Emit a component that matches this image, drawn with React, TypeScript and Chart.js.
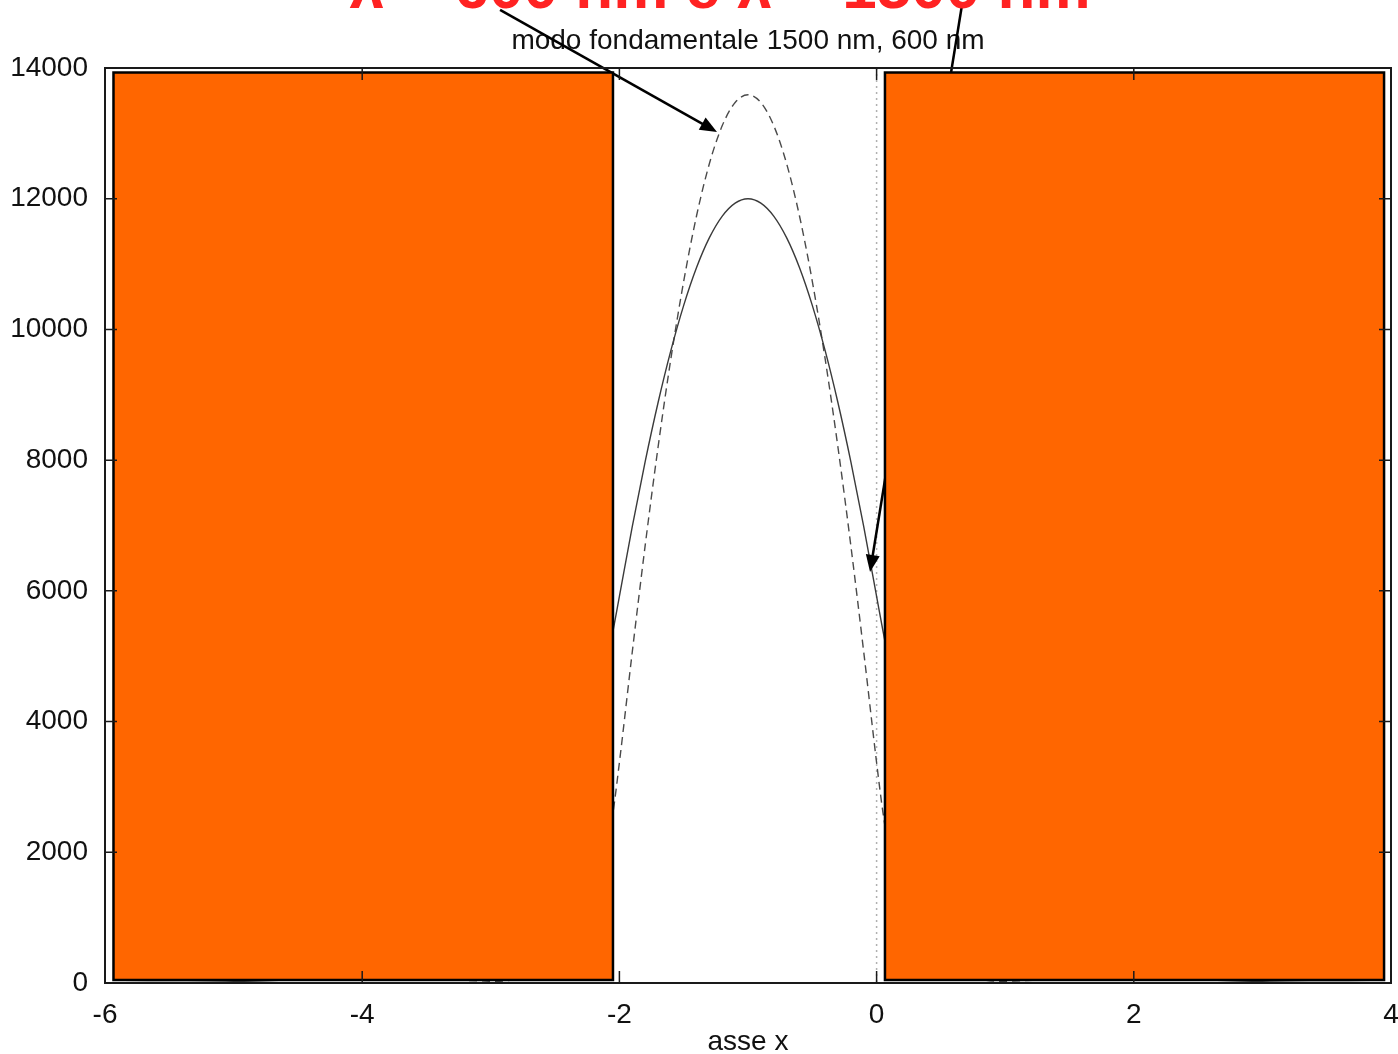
import React, { useEffect, useRef } from "react";
import { Chart, registerables } from "chart.js";

Chart.register(...registerables);

// ---- data ----
const xValues = [-6, -5, -4.5, -4, -3.5, -3, -2.8, -2.6, -2.4, -2.2, -2.1, -2.05, -2.0, -1.9, -1.8, -1.7, -1.6, -1.5, -1.4, -1.3, -1.2, -1.1, -1.0, -0.9, -0.8, -0.7, -0.6, -0.5, -0.4, -0.3, -0.2, -0.1, 0, 0.05, 0.1, 0.2, 0.4, 0.6, 0.8, 1.0, 1.5, 2, 2.5, 3, 4];
const mode1500 = [3, 21, 55, 139, 352, 895, 1306, 1905, 2779, 4054, 4897, 5382, 5915, 6983, 7974, 8874, 9675, 10368, 10947, 11404, 11734, 11933, 12000, 11933, 11734, 11404, 10947, 10368, 9675, 8874, 7974, 6983, 5915, 5382, 4897, 4054, 2779, 1905, 1306, 895, 352, 139, 55, 21, 3];
const mode600 = [0, 0, 0, 0, 2, 20, 56, 156, 434, 1208, 2016, 2600, 3373, 5064, 6687, 8190, 9548, 10736, 11739, 12538, 13119, 13472, 13590, 13472, 13119, 12538, 11739, 10736, 9548, 8190, 6687, 5064, 3373, 2600, 2016, 1208, 434, 156, 56, 20, 2, 0, 0, 0, 0];

const xTicks = [-6, -4, -2, 0, 2, 4];
const yTicks = [0, 2000, 4000, 6000, 8000, 10000, 12000, 14000];

const titleText = "modo fondamentale 1500 nm, 600 nm";
const xAxisLabel = "asse x";
const redText = "λ = 600 nm e λ = 1500 nm";

// cladding regions (data coords): [xMin, xMax, yMin, yMax]
const claddingLeft = [-5.934, -2.05, 46, 13931];
const claddingRight = [0.065, 3.946, 46, 13931];

// arrows (data coords): [xStart, yStart, xEnd, yEnd]
const arrow600 = [-2.928, 14888, -1.241, 13021];
const arrow1500 = [0.664, 14964, -0.051, 6289];

const FONT = '"Liberation Sans", Arial, Helvetica, sans-serif';

export default function App() {
  const ref = useRef<HTMLCanvasElement | null>(null);

  useEffect(() => {
    document.body.style.margin = "0";
    const canvas = ref.current!;
    const toPts = (ys: number[]) => xValues.map((x, i) => ({ x, y: ys[i] }));

    const drawArrow = (ctx: CanvasRenderingContext2D, x1: number, y1: number, x2: number, y2: number) => {
      const ang = Math.atan2(y2 - y1, x2 - x1);
      const hl = 17, hw = 7;
      ctx.save();
      ctx.strokeStyle = "#000";
      ctx.fillStyle = "#000";
      ctx.lineWidth = 2.5;
      ctx.beginPath();
      ctx.moveTo(x1, y1);
      ctx.lineTo(x2 - Math.cos(ang) * hl * 0.8, y2 - Math.sin(ang) * hl * 0.8);
      ctx.stroke();
      ctx.beginPath();
      ctx.moveTo(x2, y2);
      ctx.lineTo(x2 - Math.cos(ang) * hl - Math.sin(ang) * hw, y2 - Math.sin(ang) * hl + Math.cos(ang) * hw);
      ctx.lineTo(x2 - Math.cos(ang) * hl + Math.sin(ang) * hw, y2 - Math.sin(ang) * hl - Math.cos(ang) * hw);
      ctx.closePath();
      ctx.fill();
      ctx.restore();
    };

    const decor = {
      id: "decor",
      beforeDatasetsDraw(chart: any) {
        const { ctx, chartArea, scales } = chart;
        const xs = scales.x;
        ctx.save();
        // zero axis dotted
        ctx.strokeStyle = "#b0b0b0";
        ctx.lineWidth = 1.5;
        ctx.setLineDash([2, 4]);
        const x0 = xs.getPixelForValue(0);
        ctx.beginPath();
        ctx.moveTo(x0, chartArea.top);
        ctx.lineTo(x0, chartArea.bottom);
        ctx.stroke();
        ctx.setLineDash([]);
        // title
        ctx.fillStyle = "#111";
        ctx.font = `28px ${FONT}`;
        ctx.textAlign = "center";
        ctx.textBaseline = "alphabetic";
        ctx.fillText(titleText, (chartArea.left + chartArea.right) / 2, 49);
        // x axis label
        ctx.fillText(xAxisLabel, (chartArea.left + chartArea.right) / 2, 1050);
        ctx.restore();
      },
      afterDatasetsDraw(chart: any) {
        const { ctx, chartArea, scales } = chart;
        const xs = scales.x, ys = scales.y;
        const px = (v: number) => xs.getPixelForValue(v);
        const py = (v: number) => ys.getPixelForValue(v);
        // arrows
        for (const a of [arrow600, arrow1500]) {
          drawArrow(ctx, px(a[0]), py(a[1]), px(a[2]), py(a[3]));
        }
        // cladding rectangles
        ctx.save();
        for (const r of [claddingLeft, claddingRight]) {
          const l = px(r[0]), rr = px(r[1]), t = py(r[3]), b = py(r[2]);
          ctx.fillStyle = "#ff6600";
          ctx.fillRect(l, t, rr - l, b - t);
          ctx.strokeStyle = "#000";
          ctx.lineWidth = 2.5;
          ctx.strokeRect(l, t, rr - l, b - t);
        }
        // frame
        ctx.strokeStyle = "#1a1a1a";
        ctx.lineWidth = 2;
        ctx.strokeRect(chartArea.left, chartArea.top, chartArea.right - chartArea.left, chartArea.bottom - chartArea.top);
        // inward ticks, mirrored
        const tl = 12;
        ctx.lineWidth = 1.5;
        ctx.beginPath();
        for (const t of xTicks) {
          const x = px(t);
          ctx.moveTo(x, chartArea.bottom);
          ctx.lineTo(x, chartArea.bottom - tl);
          ctx.moveTo(x, chartArea.top);
          ctx.lineTo(x, chartArea.top + tl);
        }
        for (const t of yTicks) {
          const y = py(t);
          ctx.moveTo(chartArea.left, y);
          ctx.lineTo(chartArea.left + tl, y);
          ctx.moveTo(chartArea.right, y);
          ctx.lineTo(chartArea.right - tl, y);
        }
        ctx.stroke();
        ctx.restore();
      },
      afterDraw(chart: any) {
        const { ctx } = chart;
        ctx.save();
        ctx.fillStyle = "#ff2222";
        ctx.font = `bold 62px ${FONT}`;
        ctx.textAlign = "center";
        ctx.textBaseline = "alphabetic";
        ctx.fillText(redText, 720, 8);
        ctx.restore();
      },
    };

    const chart = new Chart(canvas, {
      type: "scatter",
      data: {
        datasets: [
          {
            label: "1500 nm",
            data: toPts(mode1500),
            showLine: true,
            borderColor: "#3a3a3a",
            borderWidth: 1.4,
            pointRadius: 0,
            cubicInterpolationMode: "monotone",
          },
          {
            label: "600 nm",
            data: toPts(mode600),
            showLine: true,
            borderColor: "#4a4a4a",
            borderWidth: 1.4,
            borderDash: [8, 5],
            pointRadius: 0,
            cubicInterpolationMode: "monotone",
          },
        ],
      },
      options: {
        responsive: false,
        animation: false,
        layout: { padding: { left: 0, right: 7, top: 68, bottom: 0 } },
        plugins: { legend: { display: false }, tooltip: { enabled: false }, title: { display: false } },
        scales: {
          x: {
            type: "linear",
            min: -6,
            max: 4,
            afterFit: (s: any) => { s.height = 71; s.paddingLeft = 0; s.paddingRight = 0; },
            afterBuildTicks: (s: any) => { s.ticks = xTicks.map((v) => ({ value: v })); },
            grid: { display: false, drawTicks: false },
            border: { display: false },
            ticks: { padding: 15, color: "#111", font: { family: FONT, size: 28 }, maxRotation: 0 },
          },
          y: {
            type: "linear",
            min: 0,
            max: 14000,
            afterFit: (s: any) => { s.width = 105; s.paddingTop = 0; s.paddingBottom = 0; },
            afterBuildTicks: (s: any) => { s.ticks = yTicks.map((v) => ({ value: v })); },
            grid: { display: false, drawTicks: false },
            border: { display: false },
            ticks: { padding: 17, color: "#111", font: { family: FONT, size: 28 }, callback: (v: any) => String(v) },
          },
        },
      },
      plugins: [decor],
    });
    return () => chart.destroy();
  }, []);

  return <canvas ref={ref} width={1398} height={1054} style={{ display: "block" }} />;
}
